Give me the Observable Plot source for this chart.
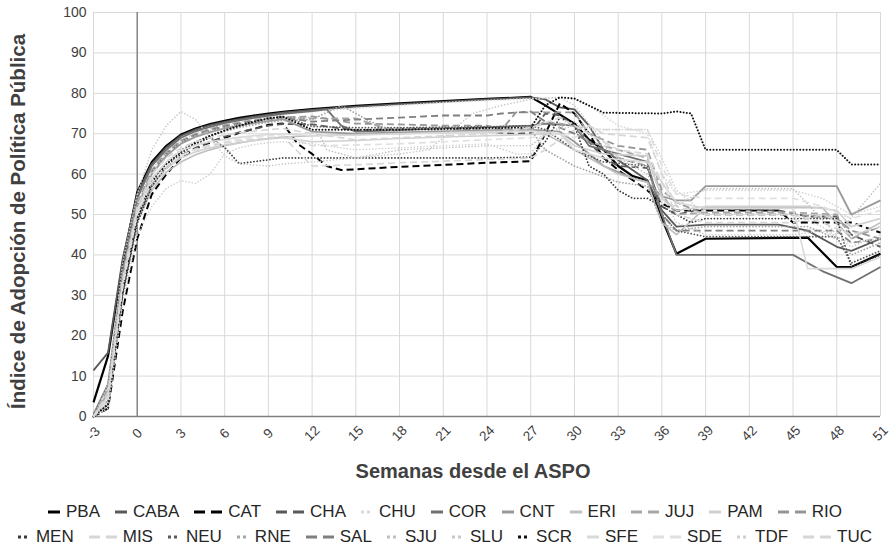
<!DOCTYPE html>
<html><head><meta charset="utf-8">
<script src="https://cdn.jsdelivr.net/npm/d3@7"></script>
<script src="https://cdn.jsdelivr.net/npm/@observablehq/plot@0.6"></script>
<style>
body{margin:0;background:#fff;font-family:"Liberation Sans",Arial,sans-serif;}
#chart{width:890px;height:546px;position:relative;overflow:hidden;}
#legend{padding-top:9px;}
.legend-row{display:flex;justify-content:center;height:25px;align-items:center;font-size:17px;color:#262626;white-space:nowrap;}
.item{display:flex;align-items:center;margin:0 7.5px;}
.item svg{margin-right:6px;}
</style></head><body><div id="chart"></div>
<script>
// ---------- data ----------
const seriesNames = ["PBA","CABA","CAT","CHA","CHU","COR","CNT","ERI","JUJ","PAM","RIO",
                     "MEN","MIS","NEU","RNE","SAL","SJU","SLU","SCR","SFE","SDE","TDF","TUC"];
const xTicks = [-3,0,3,6,9,12,15,18,21,24,27,30,33,36,39,42,45,48,51];
const yTicks = [0,10,20,30,40,50,60,70,80,90,100];
const xTitle = "Semanas desde el ASPO";
const yTitle = "Índice de Adopción de Política Pública";

const PBA  = [[-3,3.5],[-2,15],[-1,38],[0,55.5],[1,63],[2,67],[3,69.8],[4,71.3],[5,72.4],[6,73.2],[7,73.9],[8,74.5],[9,75],[10,75.4],[12,76.1],[15,76.9],[18,77.5],[21,78.1],[24,78.6],[27,79.1],[28,77],[30,72.5],[31,68.5],[32,66],[33,62],[34,59.5],[35,58.4],[36,49],[37,40.3],[39,44],[46,44.3],[48,37],[49,37],[51,40.3]];
const CABA = [[-3,11.4],[-2,15.8],[-1,39],[0,55],[1,62.5],[2,66.6],[3,69.5],[4,71],[5,72.1],[6,72.9],[7,73.6],[8,74.2],[9,74.7],[10,75.2],[12,75.9],[15,76.7],[18,77.3],[21,77.9],[24,78.5],[27,79],[28,78.5],[29,76.5],[30,76],[31,72],[32,66],[33,63.5],[35,58.5],[36,51],[37,47],[39,47.5],[44,47.5],[46,46],[48,42],[49,41],[51,44]];
const CAT  = [[-3,0],[-2,2],[-1,26],[0,44],[1,55],[2,60],[3,64],[4,66.3],[5,67.8],[6,69],[7,70.2],[8,71.2],[9,72.2],[10,72.5],[11,67.5],[12,65],[13,62],[14,61],[18,61.8],[21,62.3],[24,62.8],[27,63.2],[28,70],[29,77.5],[30,75],[31,70],[32,64],[33,61],[35,56],[36,52.7],[37,51],[39,51],[44,51],[45,48],[49,48],[51,45.5]];
const CHA  = [[-3,0],[-2,4],[-1,31],[0,48],[1,57],[2,61.5],[3,64.5],[4,66.5],[5,68],[6,69.3],[7,70.3],[8,71.2],[9,72],[10,72.4],[12,72.3],[15,70.8],[18,71.2],[21,71.5],[24,70.5],[26,70],[27,70.2],[28,75],[29,74.5],[30,72],[32,64],[33,62],[35,61.5],[36,52],[37,50],[39,51.5],[44,51],[46,49.5],[48,49.5],[49,45],[51,42]];
const CHU  = [[-3,0],[-2,5],[-1,35],[0,53],[1,61],[2,65.5],[3,68.5],[4,70],[5,71.2],[6,72.2],[7,73],[8,73.7],[9,74.2],[10,74.8],[12,75.5],[15,76.3],[18,77],[21,77.7],[24,78.2],[27,78.7],[29,79],[30,78.5],[31,77],[33,72],[35,70],[36,60],[37,55],[39,56],[45,56],[47,54],[49,50],[51,52]];
const COR  = [[-3,0.5],[-2,8],[-1,36],[0,54],[1,62],[2,66],[3,69],[4,70.6],[5,71.7],[6,72.6],[7,73.3],[8,73.9],[9,74.4],[10,74.9],[12,75.6],[13,76],[14,72],[15,70.5],[18,70.9],[21,71.3],[24,71.6],[27,72],[28,72.5],[30,72],[31,67],[33,65],[35,63],[36,50],[37,40],[45,40],[47,36],[49,33],[51,37]];
const CNT  = [[-3,0],[-2,6],[-1,34],[0,52],[1,60],[2,64.5],[3,67.5],[4,69.2],[5,70.4],[6,71.3],[7,72],[8,72.6],[9,73.1],[10,73.6],[12,70.5],[15,70],[18,70.3],[21,70.6],[24,70.8],[27,71],[29,70.5],[30,68],[32,62],[34,59],[35,58],[36,54.5],[37,53.5],[38,53.5],[39,57],[48,57],[49,50],[51,53.5]];
const ERI  = [[-3,0],[-2,3],[-1,30],[0,48],[1,56],[2,60.5],[3,63],[4,64.8],[5,66],[6,67],[7,67.7],[8,68.3],[9,68.8],[10,69.2],[12,69.5],[15,69.8],[18,70],[21,70.3],[24,70.6],[27,71],[28,70],[30,66],[32,62],[33,60],[35,58],[36,48],[37,45],[39,51.7],[47,51.7],[49,44],[51,48]];
const JUJ  = [[-3,0],[-2,7],[-1,35],[0,53],[1,61],[2,65.5],[3,68.3],[4,70],[5,71.2],[6,72.1],[7,72.8],[8,73.4],[9,73.9],[10,74.3],[11,73.8],[15,73.8],[17,71.3],[21,71.5],[24,71],[27,71.2],[28,73],[30,72],[31,68],[33,66],[35,64],[36,55],[37,50],[39,50.5],[45,50.5],[48,50],[49,44],[51,47]];
const PAM  = [[-3,0],[-2,4],[-1,32],[0,49],[1,57],[2,61.5],[3,64],[4,65.5],[5,66.5],[6,67.2],[7,67.8],[8,68.3],[9,68.7],[10,69],[12,68],[15,68.3],[18,68.8],[21,69.2],[24,69.5],[27,69.8],[29,70],[30,67],[32,65],[35,64.5],[36,54],[37,51],[39,52],[46,52],[48,51],[49,47],[51,49]];
const RIO  = [[-3,0],[-2,6],[-1,34],[0,52],[1,60.5],[2,65],[3,68],[4,69.6],[5,70.8],[6,71.7],[7,72.4],[8,73],[9,73.5],[10,74],[12,74.3],[15,72.5],[18,72.3],[21,72],[24,72],[25,71],[26,75.3],[30,75.3],[31,70],[33,67],[35,66],[36,56],[37,53],[39,50],[45,50],[48,49],[49,46],[51,44]];
const MEN  = [[-3,0],[-2,2],[-1,30],[0,48],[1,57],[2,62],[3,65],[4,67.5],[5,69],[6,66.6],[7,62.6],[10,64],[12,64],[15,64],[18,64],[21,64],[24,64],[27,64.2],[28,68],[29,74],[30,72],[31,62],[32,60],[33,56],[34,54],[35,54],[36,52],[37,50],[38,48],[39,49],[48,49],[49,37],[51,40]];
const MIS  = [[-3,0],[-2,5],[-1,33],[0,50],[1,58],[2,62],[3,64.5],[4,66],[5,67],[6,67.7],[7,68.2],[8,68.6],[9,69],[10,69.3],[12,62],[15,62.3],[18,62.8],[21,63.2],[24,63.6],[27,64],[28,66],[30,71],[31,72],[32,70],[35,69],[36,60],[37,52],[39,50],[45,50],[47,48],[49,45],[51,47]];
const NEU  = [[-3,0],[-2,3],[-1,31],[0,49],[1,58],[2,62.5],[3,65.5],[4,67.5],[5,69.3],[6,70.7],[7,71.8],[8,72.8],[9,73.7],[10,74.3],[12,71.8],[15,71.5],[18,71.5],[21,71.6],[24,71.7],[27,72],[28,71],[30,66],[32,63],[35,62],[36,50],[37,46],[39,44.5],[48,44.5],[49,38],[51,41]];
const RNE  = [[-3,0],[-2,4],[-1,32],[0,50],[1,58.5],[2,63],[3,66],[4,68],[5,69.5],[6,70.6],[7,71.5],[8,72.2],[9,72.8],[10,73.3],[12,73.5],[14,77],[16,73],[18,70],[21,71],[24,71],[27,71],[28,66],[30,62],[33,58],[35,57],[36,48],[37,46],[39,47],[46,47],[48,44],[49,40],[51,43]];
const SAL  = [[-3,0],[-2,6],[-1,34],[0,52],[1,60.5],[2,65],[3,68],[4,69.7],[5,70.9],[6,71.8],[7,72.5],[8,73.1],[9,73.6],[10,74],[12,73],[15,73.5],[18,74],[21,74.5],[24,74.5],[25,75],[27,75.5],[28,73],[30,70],[33,64],[35,62],[36,50],[37,46],[39,46],[48,46],[49,43],[51,44]];
const SJU  = [[-3,0],[-2,6],[-1,34],[0,52],[1,60.5],[2,65],[3,68],[4,69.5],[5,70.7],[6,71.6],[7,72.3],[8,72.9],[9,73.4],[10,73.8],[12,74],[13,66],[15,64],[18,66],[21,66.5],[24,67],[27,67],[28,70],[30,73],[31,70],[33,64],[35,60],[36,53],[37,52],[39,56.4],[45,56.4],[48,45],[51,57.7]];
const SLU  = [[-3,0],[-2,8],[-1,38],[0,55],[1,66],[2,72],[3,75.5],[4,73.5],[5,69],[6,64.5],[7,62.5],[9,62],[10,62.5],[12,63],[15,64],[18,65],[20,66],[23,75],[25,77],[27,78.5],[29,79],[30,77],[32,68],[33,64],[35,62],[36,55],[37,48],[39,45],[45,45],[47,46],[49,43],[51,44]];
const SCR  = [[-3,0],[-2,3],[-1,31],[0,49],[1,58],[2,62.5],[3,65.5],[4,67.8],[5,69.5],[6,70.8],[7,72],[8,73],[9,73.8],[10,74.2],[12,71],[15,71],[18,71],[21,71.2],[24,71.4],[27,71.5],[28,77],[29,79],[30,78.7],[32,75.2],[36,75],[37,75.5],[38,75],[39,66],[48,66],[49,62.4],[51,62.4]];
const SFE  = [[-3,0],[-2,5],[-1,33],[0,51],[1,59],[2,63],[3,65.8],[4,67.2],[5,68],[6,68.6],[7,69.1],[8,69.5],[9,69.8],[10,70],[12,69.5],[15,69.6],[18,70],[21,70.2],[24,70.4],[27,70.6],[29,70],[30,66],[32,64],[35,63],[36,58],[37,53],[39,51.5],[45,51.5],[46,36.6],[49,36.6],[51,39.5]];
const SDE  = [[-3,0],[-2,4],[-1,32],[0,50],[1,58],[2,62],[3,64.5],[4,66.2],[5,67.3],[6,68],[7,68.6],[8,69.1],[9,69.5],[10,69.8],[12,67],[15,67.2],[18,67.5],[21,68],[24,68.5],[27,69],[29,70],[30,69],[31,71],[35,71],[36,62],[37,55],[39,54],[45,54],[47,52],[49,49],[51,51]];
const TDF  = [[-3,0],[-2,2],[-1,28],[0,45],[1,52],[2,56.5],[3,58.4],[4,57.7],[5,60],[6,65],[7,66.5],[8,67.3],[9,67.8],[10,68],[12,67.5],[15,66],[18,66.5],[21,67],[24,67.5],[26,65],[27,65],[28,70],[30,72],[32,71],[35,71],[36,64],[37,56],[39,50],[45,50],[47,47],[49,42],[51,45]];
const TUC  = [[-3,0],[-2,6],[-1,34],[0,52],[1,60],[2,64],[3,66.5],[4,68],[5,69],[6,69.7],[7,70.2],[8,70.6],[9,71],[10,71.3],[12,70],[15,68.5],[18,69],[21,69.5],[24,70],[27,71.5],[29,74],[30,72],[33,66],[35,65],[36,58],[37,50],[39,48],[45,48],[47,50],[49,47],[51,49]];

const seriesData = [PBA,CABA,CAT,CHA,CHU,COR,CNT,ERI,JUJ,PAM,RIO,MEN,MIS,NEU,RNE,SAL,SJU,SLU,SCR,SFE,SDE,TDF,TUC];

// ---------- styles ----------
const colors = ["#000000","#595959","#000000","#595959","#d9d9d9","#6f6f6f","#999999","#bfbfbf","#a6a6a6","#d0d0d0","#969696",
                "#3a3a3a","#d6d6d6","#595959","#a6a6a6","#7f7f7f","#bfbfbf","#c8c8c8","#111111","#d9d9d9","#e0e0e0","#cfcfcf","#d6d6d6"];
const kinds  = ["solid","solid","dash","dash","dot","solid","solid","solid","dash","solid","dash",
                "dot","dash","dot","dot","dash","dot","dot","dot","solid","dash","dot","dash"];
const widths = [2.2,1.8,2,1.8,1.8,1.8,1.8,1.6,1.8,1.6,1.8,1.8,1.6,1.8,1.8,1.8,1.6,1.6,2,1.6,1.6,1.6,1.6];
const legendRows = [seriesNames.slice(0,11), seriesNames.slice(11)];

const lineMarks = seriesNames.map((n,i) => {
  const rows = seriesData[i].map(([w,v]) => ({w, v}));
  const k = kinds[i];
  return Plot.line(rows, {
    x: "w", y: "v", stroke: colors[i], strokeWidth: widths[i],
    strokeDasharray: k === "dash" ? "7,4" : k === "dot" ? "0.01,3.2" : null,
    strokeLinecap: k === "dot" ? "round" : "butt",
    strokeLinejoin: "round"
  });
});

const plot = Plot.plot({
  width: 890, height: 490,
  marginTop: 12, marginBottom: 74, marginLeft: 93, marginRight: 10,
  style: {fontFamily: '"Liberation Sans", Arial, sans-serif', background: "#fff"},
  x: {domain: [-3, 51], axis: null},
  y: {domain: [0, 100], axis: null},
  marks: [
    Plot.gridX(xTicks, {stroke: "#d9d9d9", strokeOpacity: 1, strokeWidth: 1}),
    Plot.gridY(yTicks, {stroke: "#d9d9d9", strokeOpacity: 1, strokeWidth: 1}),
    Plot.ruleX([0], {stroke: "#808080", strokeWidth: 1.4}),
    Plot.ruleY([0], {stroke: "#808080", strokeWidth: 1.4}),
    ...lineMarks,
    Plot.axisY(yTicks, {tickSize: 0, tickPadding: 7, fontSize: 14, fill: "#404040", label: null}),
    Plot.text(xTicks, {x: d => d, frameAnchor: "bottom", dy: 17, dx: 0, rotate: -45, textAnchor: "middle", lineAnchor: "middle", fontSize: 13.5, fill: "#404040"}),
    Plot.text([xTitle], {frameAnchor: "bottom", dy: 55, dx: -14, textAnchor: "middle", lineAnchor: "middle", fontSize: 20, fontWeight: "bold", fill: "#404040"}),
    Plot.text([yTitle], {frameAnchor: "left", dx: -75, dy: 7, rotate: -90, textAnchor: "middle", lineAnchor: "middle", fontSize: 20.5, fontWeight: "bold", fill: "#404040"})
  ]
});
const chart = document.getElementById("chart");
chart.appendChild(plot);

// ---------- legend ----------
const legend = document.createElement("div");
legend.id = "legend";
legendRows.forEach(names => {
  const row = document.createElement("div");
  row.className = "legend-row";
  names.forEach(n => {
    const i = seriesNames.indexOf(n);
    const k = kinds[i];
    const w = k === "dash" ? 28 : 12;
    const dash = k === "dash" ? "11,6" : k === "dot" ? "3,3" : "none";
    const item = document.createElement("div");
    item.className = "item";
    item.innerHTML = `<svg width="${w}" height="10"><line x1="0" x2="${w}" y1="5" y2="5" stroke="${colors[i]}" stroke-width="3" stroke-dasharray="${dash}"/></svg><span>${n}</span>`;
    row.appendChild(item);
  });
  legend.appendChild(row);
});
chart.appendChild(legend);
</script></body></html>
